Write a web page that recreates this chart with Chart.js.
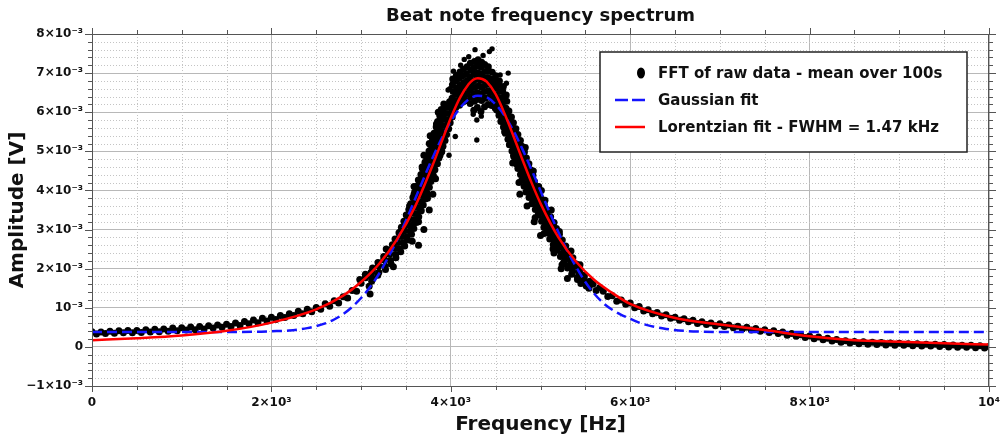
<!DOCTYPE html>
<html>
<head>
<meta charset="utf-8">
<title>Beat note frequency spectrum</title>
<script src="https://cdn.jsdelivr.net/npm/chart.js@4.4.1/dist/chart.umd.min.js"></script>
<style>
  html, body { margin: 0; padding: 0; background: #fff; }
</style>
</head>
<body>
<canvas id="spectrum" width="1000" height="440"></canvas>
<script>
// Beat note spectrum - amplitudes are in mV, frequencies in Hz

const FONT = "'DejaVu Sans', 'Liberation Sans', sans-serif";

// Lorentzian fit
const lorentzFreq = [0, 500, 1000, 1500, 2000, 2500, 2800, 3000, 3200, 3400, 3600, 3800, 3900, 4000, 4100,
    4200, 4250, 4300, 4350, 4400, 4500, 4600, 4700, 4800, 4900, 5000, 5200, 5400, 5600, 5800,
    6000, 6500, 7000, 7500, 8000, 8500, 9000, 9500, 10000];
const lorentzAmp = [0.17, 0.22, 0.29, 0.41, 0.62, 0.96, 1.31, 1.66, 2.12, 2.75, 3.58, 4.66, 5.26, 5.85, 6.36,
    6.72, 6.83, 6.87, 6.85, 6.78, 6.46, 5.96, 5.38, 4.78, 4.20, 3.67, 2.80, 2.17, 1.71, 1.38,
    1.10, 0.74, 0.57, 0.43, 0.27, 0.17, 0.13, 0.09, 0.06];

// Gaussian fit (blue dashed curve)
const gaussFreq = [0, 1000, 1800, 2000, 2200, 2400, 2500, 2600, 2700, 2800, 2900, 3000, 3100, 3200, 3300,
    3400, 3500, 3600, 3700, 3800, 3900, 4000, 4100, 4200, 4300, 4400, 4500, 4600, 4700, 4800,
    4900, 5000, 5100, 5200, 5300, 5400, 5500, 5600, 5700, 5800, 5900, 6000, 6100, 6200, 6400,
    6600, 6800, 7000, 8000, 9000, 10000];
const gaussAmp = [0.38, 0.38, 0.385, 0.40, 0.42, 0.48, 0.53, 0.60, 0.70, 0.84, 1.02, 1.25, 1.53, 1.87, 2.28,
    2.73, 3.23, 3.77, 4.32, 4.85, 5.34, 5.77, 6.10, 6.33, 6.42, 6.38, 6.20, 5.91, 5.52, 5.05,
    4.53, 3.99, 3.45, 2.93, 2.45, 2.03, 1.66, 1.36, 1.12, 0.95, 0.82, 0.72, 0.62, 0.55, 0.46,
    0.41, 0.39, 0.38, 0.38, 0.38, 0.38];

// FFT points [Hz, mV], grouped by region of the spectrum
const fftLeftTail = [
    [0, .39], [50, .33], [100, .38], [150, .34], [200, .40], [250, .35], [300, .41], [350, .36],
    [400, .42], [450, .36], [500, .42], [550, .37], [600, .44], [650, .38], [700, .45], [750, .39],
    [800, .46], [850, .40], [900, .48], [950, .41], [1000, .49], [1050, .43], [1100, .51], [1150, .44],
    [1200, .52], [1250, .46], [1300, .54], [1350, .48], [1400, .56], [1450, .50], [1500, .58], [1550, .52],
    [1600, .61], [1650, .55], [1700, .65], [1750, .59], [1800, .69], [1850, .62], [1900, .73], [1950, .66],
    [2000, .76], [2050, .70], [2100, .80], [2150, .75], [2200, .85], [2250, .80], [2300, .91], [2350, .85],
    [2400, .96], [2450, .90], [2500, 1.01], [2550, .96], [2600, 1.10], [2650, 1.04], [2700, 1.18], [2750, 1.12],
    [2800, 1.28], [2850, 1.25], [2900, 1.44], [2950, 1.42], [3000, 1.63]
];

const fftRiseFlank = [
    [2985, 1.72], [3050, 1.77], [3118, 1.68], [3048, 1.86], [3125, 1.92], [3186, 1.83],
    [3128, 2.02], [3196, 2.07], [3272, 1.98], [3188, 2.16], [3264, 2.22], [3334, 2.12],
    [3252, 2.31], [3318, 2.37], [3388, 2.28], [3302, 2.47], [3379, 2.52], [3442, 2.43],
    [3348, 2.61], [3412, 2.67], [3486, 2.58], [3378, 2.76], [3455, 2.82], [3519, 2.73],
    [3422, 2.92], [3487, 2.97], [3562, 2.88], [3449, 3.06], [3524, 3.12], [3588, 3.03],
    [3477, 3.21], [3541, 3.27], [3616, 3.18], [3503, 3.37], [3579, 3.42], [3643, 3.33],
    [3532, 3.51], [3597, 3.57], [3671, 3.48], [3553, 3.66], [3629, 3.72], [3693, 3.63],
    [3577, 3.82], [3642, 3.87], [3716, 3.78], [3598, 3.96], [3674, 4.02], [3738, 3.93],
    [3622, 4.11], [3687, 4.17], [3761, 4.08], [3638, 4.27], [3714, 4.32], [3778, 4.23],
    [3667, 4.41], [3731, 4.47], [3806, 4.38], [3683, 4.56], [3759, 4.62], [3823, 4.53],
    [3712, 4.72], [3777, 4.77], [3851, 4.68], [3728, 4.86], [3804, 4.92], [3868, 4.83],
    [3757, 5.01], [3821, 5.07], [3896, 4.98], [3773, 5.17], [3849, 5.22], [3913, 5.13],
    [3797, 5.31], [3862, 5.37], [3936, 5.28], [3813, 5.46], [3889, 5.52], [3953, 5.43],
    [3837, 5.62], [3901, 5.67], [3976, 5.58], [3853, 5.76], [3929, 5.82], [3993, 5.73],
    [3877, 5.91], [3942, 5.97], [4016, 5.88], [3893, 6.07], [3969, 6.12], [4033, 6.03],
    [3922, 6.21], [3986, 6.27], [4061, 6.18],
    [3800, 3.90], [3830, 4.30], [3760, 3.50], [3700, 3.00], [3640, 2.60], [3590, 3.90],
    [3680, 4.60], [3760, 5.20], [3840, 5.70], [3100, 1.35], [3110, 1.90], [3090, 1.55],
    [3880, 4.90], [3940, 5.50]
];

// in-between points of the rising flank
const fftRiseFill = [
    [3047, 1.78], [3123, 1.76], [3122, 1.93], [3198, 1.91], [3192, 2.08], [3268, 2.06],
    [3252, 2.23], [3328, 2.21], [3310, 2.38], [3386, 2.36], [3357, 2.53], [3433, 2.51],
    [3395, 2.68], [3471, 2.66], [3432, 2.83], [3508, 2.81], [3467, 2.98], [3543, 2.96],
    [3495, 3.13], [3571, 3.11], [3522, 3.28], [3598, 3.26], [3550, 3.43], [3626, 3.41],
    [3575, 3.58], [3651, 3.56], [3597, 3.73], [3673, 3.71], [3620, 3.88], [3696, 3.86],
    [3642, 4.03], [3718, 4.01], [3662, 4.18], [3738, 4.16], [3685, 4.33], [3761, 4.31],
    [3707, 4.48], [3783, 4.46], [3730, 4.63], [3806, 4.61], [3752, 4.78], [3828, 4.76],
    [3775, 4.93], [3851, 4.91], [3797, 5.08], [3873, 5.06], [3817, 5.23], [3893, 5.21],
    [3837, 5.38], [3913, 5.36], [3857, 5.53], [3933, 5.51], [3877, 5.68], [3953, 5.66],
    [3897, 5.83], [3973, 5.81], [3917, 5.98], [3993, 5.96], [3940, 6.13], [4016, 6.11],
    [3440, 2.95], [3540, 3.60], [3590, 4.10], [3700, 4.90], [3770, 5.40], [3860, 6.00],
    [3280, 2.50], [3570, 2.70], [3640, 3.20], [3740, 3.80], [3800, 4.60], [3900, 5.00],
    [3960, 5.80], [3360, 2.05]
];

const fftPeakTop = [
    [4016, 6.02], [4024, 6.19], [4014, 6.36], [4026, 6.53], [4018, 6.70], [4022, 6.85],
    [4056, 6.12], [4064, 6.28], [4058, 6.45], [4066, 6.62], [4054, 6.79], [4062, 6.94],
    [4096, 6.18], [4104, 6.35], [4098, 6.52], [4106, 6.69], [4094, 6.86], [4102, 7.03],
    [4136, 6.26], [4144, 6.42], [4138, 6.59], [4146, 6.76], [4134, 6.93], [4142, 7.10],
    [4176, 6.30], [4184, 6.47], [4178, 6.64], [4186, 6.81], [4174, 6.98], [4182, 7.16],
    [4216, 6.22], [4224, 6.39], [4218, 6.56], [4226, 6.73], [4214, 6.90], [4222, 7.07], [4218, 7.25],
    [4256, 6.05], [4264, 6.28], [4258, 6.46], [4266, 6.63], [4254, 6.80], [4262, 6.97], [4258, 7.14], [4264, 7.30],
    [4296, 6.12], [4304, 6.33], [4298, 6.50], [4306, 6.67], [4294, 6.84], [4302, 7.01], [4298, 7.18], [4304, 7.34],
    [4336, 6.02], [4344, 6.30], [4338, 6.47], [4346, 6.64], [4334, 6.81], [4342, 6.98], [4338, 7.15], [4344, 7.28],
    [4376, 6.14], [4384, 6.36], [4378, 6.53], [4386, 6.70], [4374, 6.87], [4382, 7.04], [4378, 7.22],
    [4416, 6.20], [4424, 6.38], [4418, 6.55], [4426, 6.72], [4414, 6.89], [4422, 7.06], [4418, 7.16],
    [4456, 6.17], [4464, 6.34], [4458, 6.51], [4466, 6.68], [4454, 6.85], [4462, 7.02],
    [4496, 6.10], [4504, 6.27], [4498, 6.44], [4506, 6.61], [4494, 6.78], [4502, 6.93],
    [4536, 6.02], [4544, 6.19], [4538, 6.36], [4546, 6.53], [4534, 6.70], [4542, 6.80],
    [4576, 6.22], [4584, 6.38], [4578, 6.54], [4586, 6.66],
    [4616, 6.10], [4624, 6.28], [4618, 6.44]
];

const fftFallFlank = [
    [4512, 6.06], [4584, 6.12], [4648, 6.03], [4537, 5.92], [4601, 5.97], [4676, 5.88],
    [4558, 5.76], [4634, 5.82], [4698, 5.73], [4587, 5.62], [4652, 5.67], [4726, 5.58],
    [4608, 5.46], [4684, 5.52], [4748, 5.43], [4637, 5.31], [4701, 5.37], [4776, 5.28],
    [4653, 5.17], [4729, 5.22], [4793, 5.13], [4682, 5.01], [4747, 5.07], [4821, 4.98],
    [4703, 4.86], [4779, 4.92], [4843, 4.83], [4732, 4.72], [4796, 4.77], [4871, 4.68],
    [4748, 4.56], [4824, 4.62], [4888, 4.53], [4777, 4.41], [4842, 4.47], [4916, 4.38],
    [4793, 4.27], [4869, 4.32], [4933, 4.23], [4817, 4.11], [4881, 4.17], [4956, 4.08],
    [4838, 3.96], [4914, 4.02], [4978, 3.93], [4872, 3.82], [4937, 3.87], [5011, 3.78],
    [4903, 3.66], [4979, 3.72], [5043, 3.63], [4942, 3.51], [5006, 3.57], [5081, 3.48],
    [4973, 3.37], [5049, 3.42], [5113, 3.33], [5012, 3.21], [5077, 3.27], [5151, 3.18],
    [5038, 3.06], [5114, 3.12], [5178, 3.03], [5072, 2.92], [5136, 2.97], [5211, 2.88],
    [5103, 2.76], [5179, 2.82], [5243, 2.73], [5142, 2.61], [5207, 2.67], [5281, 2.58],
    [5178, 2.47], [5254, 2.52], [5318, 2.43], [5222, 2.31], [5286, 2.37], [5361, 2.28],
    [5258, 2.16], [5334, 2.22], [5398, 2.12], [5302, 2.02], [5367, 2.07], [5441, 1.98],
    [5348, 1.86], [5424, 1.92], [5488, 1.83], [5412, 1.72], [5476, 1.77], [5551, 1.68],
    [5510, 1.56], [5586, 1.61], [5660, 1.52], [5450, 1.62], [5540, 1.50], [5620, 1.44],
    [4760, 4.20], [4850, 3.60], [4930, 3.20], [5000, 2.85], [5150, 2.40], [5230, 2.00],
    [5300, 1.75], [4700, 4.90], [4980, 4.10], [5050, 3.75]
];

// in-between points of the falling flank
const fftFallFill = [
    [4555, 5.98], [4631, 5.96], [4580, 5.83], [4656, 5.81], [4605, 5.68], [4681, 5.66],
    [4630, 5.53], [4706, 5.51], [4655, 5.38], [4731, 5.36], [4677, 5.23], [4753, 5.21],
    [4700, 5.08], [4776, 5.06], [4725, 4.93], [4801, 4.91], [4750, 4.78], [4826, 4.76],
    [4772, 4.63], [4848, 4.61], [4795, 4.48], [4871, 4.46], [4817, 4.33], [4893, 4.31],
    [4837, 4.18], [4913, 4.16], [4860, 4.03], [4936, 4.01], [4887, 3.88], [4963, 3.86],
    [4920, 3.73], [4996, 3.71], [4955, 3.58], [5031, 3.56], [4990, 3.43], [5066, 3.41],
    [5025, 3.28], [5101, 3.26], [5057, 3.13], [5133, 3.11], [5087, 2.98], [5163, 2.96],
    [5120, 2.83], [5196, 2.81], [5155, 2.68], [5231, 2.66], [5192, 2.53], [5268, 2.51],
    [5232, 2.38], [5308, 2.36], [5272, 2.23], [5348, 2.21], [5312, 2.08], [5388, 2.06],
    [5357, 1.93], [5433, 1.91], [5412, 1.78], [5488, 1.76], [5497, 1.63], [5573, 1.61],
    [4600, 5.50], [4690, 4.70], [4770, 3.90], [4940, 3.30], [5040, 2.90], [5140, 2.50],
    [5240, 2.10], [4830, 5.10], [4920, 4.50], [5010, 4.00], [5120, 3.50], [5210, 2.95],
    [5340, 2.45], [5440, 2.10]
];

const fftRightTail = [
    [5700, 1.42], [5750, 1.29], [5800, 1.31], [5850, 1.17], [5900, 1.20], [5950, 1.09], [6000, 1.12], [6050, 1.00],
    [6100, 1.03], [6150, .92], [6200, .95], [6250, .85], [6300, .88], [6350, .79], [6400, .82], [6450, .73],
    [6500, .76], [6550, .68], [6600, .72], [6650, .64], [6700, .68], [6750, .60], [6800, .64], [6850, .57],
    [6900, .61], [6950, .54], [7000, .59], [7050, .52], [7100, .56], [7150, .49], [7200, .53], [7250, .46],
    [7300, .50], [7350, .43], [7400, .47], [7450, .40], [7500, .44], [7550, .37], [7600, .41], [7650, .34],
    [7700, .38], [7750, .30], [7800, .34], [7850, .27], [7900, .31], [7950, .24], [8000, .28], [8050, .21],
    [8100, .25], [8150, .18], [8200, .22], [8250, .15], [8300, .19], [8350, .12], [8400, .16], [8450, .10],
    [8500, .14], [8550, .08], [8600, .13], [8650, .07], [8700, .12], [8750, .06], [8800, .11], [8850, .05],
    [8900, .10], [8950, .04], [9000, .09], [9050, .04], [9100, .08], [9150, .03], [9200, .08], [9250, .02],
    [9300, .07], [9350, .02], [9400, .07], [9450, .01], [9500, .06], [9550, .00], [9600, .05], [9650, -.01],
    [9700, .04], [9750, -.01], [9800, .04], [9850, -.02], [9900, .03], [9950, -.03], [10000, .01]
];

// isolated points around the peak, drawn a little smaller
const fftOutliers = [
    [4270, 7.60], [4430, 7.55], [4460, 7.62], [4150, 7.35], [4200, 7.42], [4360, 7.45], [4110, 7.20],
    [4030, 7.05], [4640, 7.00], [4550, 6.95], [4620, 6.74], [3970, 6.57], [3990, 6.60],
    [4290, 5.80], [4290, 5.29], [3980, 4.90], [4730, 4.65], [4050, 5.38], [4250, 5.95], [4340, 5.90], [4560, 5.85]
];

// axis ticks
const freqMajor = 2000, freqMinor = 500;
const ampMajor = 0.001, ampMinor = 0.0002;

function pairsToPoints(freqs, amps) {
    return freqs.map((f, i) => ({ x: f, y: amps[i] / 1000 }));
}

const toPoint = ([f, a]) => ({ x: f, y: a / 1000 });
const fftPoints = [...fftLeftTail, ...fftRiseFlank, ...fftRiseFill, ...fftPeakTop,
    ...fftFallFlank, ...fftFallFill, ...fftRightTail].map(toPoint);
const fftStray = fftOutliers.map(toPoint);

function ampLabel(value) {
    const n = Math.round(value * 1000);
    if (n === 0) return '0';
    if (n === 1) return '10⁻³';
    return (n < 0 ? '−' + Math.abs(n) : n) + '×10⁻³';
}

function freqLabel(value) {
    if (value === 0) return '0';
    if (value === 10000) return '10⁴';
    return (value / 1000) + '×10³';
}

// Dotted minor grid between the major grid lines
const minorGrid = {
    id: 'minorGrid',
    beforeDatasetsDraw(chart) {
        const { ctx, chartArea: a, scales: { x, y } } = chart;
        ctx.save();
        ctx.strokeStyle = '#c4c4c4';
        ctx.lineWidth = 1;
        ctx.setLineDash([1, 2]);
        ctx.beginPath();
        for (let f = freqMinor; f < x.max; f += freqMinor) {
            if (f % freqMajor === 0) continue;
            const px = Math.round(x.getPixelForValue(f)) + 0.5;
            ctx.moveTo(px, a.top);
            ctx.lineTo(px, a.bottom);
        }
        for (let k = -5; k <= 40; k++) {
            if (k % 5 === 0) continue;
            const py = Math.round(y.getPixelForValue(k * ampMinor)) + 0.5;
            ctx.moveTo(a.left, py);
            ctx.lineTo(a.right, py);
        }
        ctx.stroke();
        ctx.restore();
    }
};

// Frame, outside tick marks on all four sides, titles and legend box
const decorations = {
    id: 'decorations',
    afterDraw(chart) {
        const { ctx, chartArea: a, scales: { x, y } } = chart;
        ctx.save();

        // frame
        ctx.strokeStyle = '#555';
        ctx.lineWidth = 1;
        ctx.strokeRect(Math.round(a.left) + 0.5, Math.round(a.top) + 0.5,
            Math.round(a.right - a.left) - 1, Math.round(a.bottom - a.top));

        // tick marks
        ctx.beginPath();
        for (let f = 0; f <= x.max; f += freqMinor) {
            const len = f % freqMajor === 0 ? 6 : 4;
            const px = Math.round(x.getPixelForValue(f)) + 0.5;
            ctx.moveTo(px, a.bottom); ctx.lineTo(px, a.bottom + len);
            ctx.moveTo(px, a.top); ctx.lineTo(px, a.top - len);
        }
        for (let k = -5; k <= 40; k++) {
            const len = k % 5 === 0 ? 7 : 4;
            const py = Math.round(y.getPixelForValue(k * ampMinor)) + 0.5;
            ctx.moveTo(a.left, py); ctx.lineTo(a.left - len, py);
            ctx.moveTo(a.right, py); ctx.lineTo(a.right + len, py);
        }
        ctx.stroke();

        // titles
        const cx = (a.left + a.right) / 2;
        ctx.fillStyle = '#111';
        ctx.textAlign = 'center';
        ctx.textBaseline = 'middle';
        ctx.font = `bold 18px ${FONT}`;
        ctx.fillText('Beat note frequency spectrum', cx, 16);
        ctx.font = `bold 20px ${FONT}`;
        ctx.fillText('Frequency [Hz]', cx, 425);
        ctx.save();
        ctx.translate(18, (a.top + a.bottom) / 2);
        ctx.rotate(-Math.PI / 2);
        ctx.fillText('Amplitude [V]', 0, 0);
        ctx.restore();

        // legend (first three datasets)
        const box = { left: 600, top: 52, right: 967, bottom: 152 };
        ctx.fillStyle = '#fff';
        ctx.fillRect(box.left, box.top, box.right - box.left, box.bottom - box.top);
        ctx.strokeStyle = '#222';
        ctx.lineWidth = 1.5;
        ctx.strokeRect(box.left, box.top, box.right - box.left, box.bottom - box.top);

        const rows = [73, 100, 127];
        const ds = chart.data.datasets.slice(0, 3);
        ctx.font = `bold 15px ${FONT}`;
        ctx.textAlign = 'left';
        ds.forEach((d, i) => {
            const ry = rows[i];
            if (i === 0) {
                ctx.fillStyle = d.backgroundColor;
                ctx.beginPath();
                ctx.ellipse(641, ry, 4, 5.5, 0, 0, Math.PI * 2);
                ctx.fill();
            } else {
                ctx.strokeStyle = d.borderColor;
                ctx.lineWidth = 2.5;
                ctx.setLineDash(d.borderDash ? [13, 4] : []);
                ctx.beginPath();
                ctx.moveTo(615, ry);
                ctx.lineTo(645, ry);
                ctx.stroke();
                ctx.setLineDash([]);
            }
            ctx.fillStyle = '#111';
            ctx.fillText(d.label, 658, ry + 1);
        });
        ctx.restore();
    }
};

const ctx = document.getElementById('spectrum').getContext('2d');
const tickFont = { family: FONT, size: 12, weight: 'bold' };

new Chart(ctx, {
    type: 'scatter',
    data: {
        datasets: [
            {
                label: 'FFT of raw data - mean over 100s',
                data: fftPoints,
                backgroundColor: '#000',
                borderColor: '#000',
                pointRadius: 3.5,
                pointBorderWidth: 0,
                order: 4
            },
            {
                type: 'line',
                label: 'Gaussian fit',
                data: pairsToPoints(gaussFreq, gaussAmp),
                borderColor: '#1414ff',
                borderWidth: 2.5,
                borderDash: [10, 5],
                pointRadius: 0,
                fill: false,
                cubicInterpolationMode: 'monotone',
                order: 2
            },
            {
                type: 'line',
                label: 'Lorentzian fit - FWHM = 1.47 kHz',
                data: pairsToPoints(lorentzFreq, lorentzAmp),
                borderColor: '#ff0000',
                borderWidth: 2.5,
                pointRadius: 0,
                fill: false,
                cubicInterpolationMode: 'monotone',
                order: 1
            },
            {
                label: 'stray FFT points',
                data: fftStray,
                backgroundColor: '#000',
                borderColor: '#000',
                pointRadius: 2.7,
                pointBorderWidth: 0,
                order: 3
            }
        ]
    },
    options: {
        responsive: false,
        animation: false,
        layout: { padding: { top: 34, right: 11, left: 0, bottom: 0 } },
        plugins: {
            legend: { display: false },
            tooltip: { enabled: false },
            title: { display: false }
        },
        scales: {
            x: {
                type: 'linear',
                min: 0,
                max: 10000,
                afterFit: s => { s.height = 54; s.paddingLeft = 0; s.paddingRight = 0; },
                ticks: {
                    stepSize: freqMajor,
                    autoSkip: false,
                    maxRotation: 0,
                    padding: 10,
                    color: '#111',
                    font: tickFont,
                    callback: freqLabel
                },
                grid: { color: '#b8b8b8', drawTicks: false },
                border: { color: '#555' }
            },
            y: {
                min: -0.001,
                max: 0.008,
                afterFit: s => { s.width = 92; s.paddingTop = 0; s.paddingBottom = 0; },
                ticks: {
                    stepSize: ampMajor,
                    autoSkip: false,
                    padding: 9,
                    color: '#111',
                    font: tickFont,
                    callback: ampLabel
                },
                grid: { color: '#b8b8b8', drawTicks: false },
                border: { color: '#555' }
            }
        }
    },
    plugins: [minorGrid, decorations]
});
</script>
</body>
</html>
